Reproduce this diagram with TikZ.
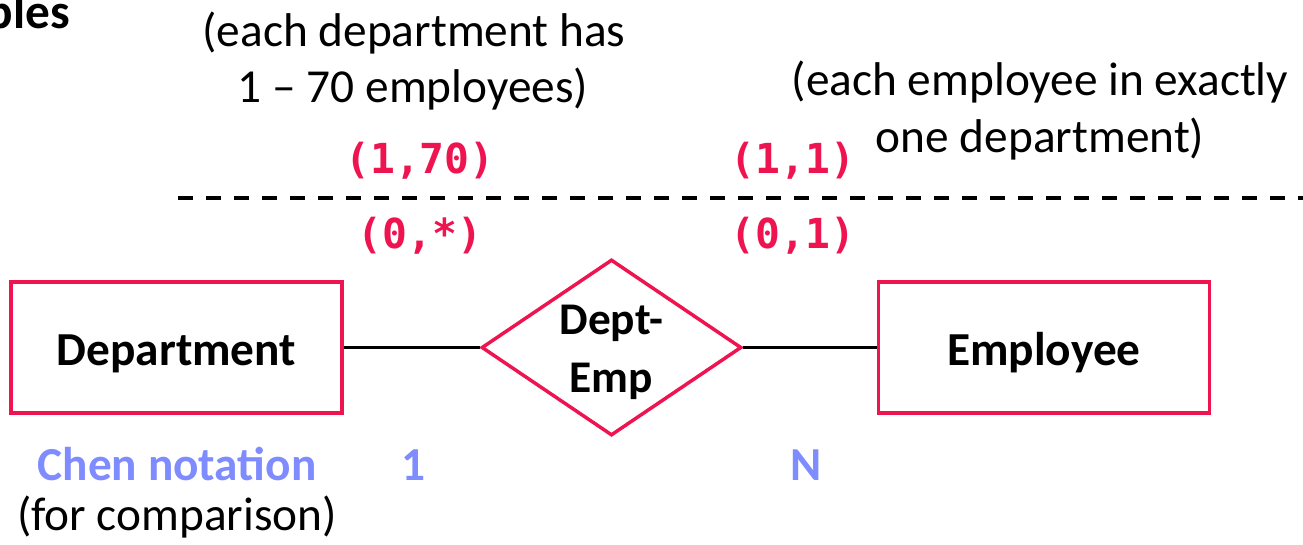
\documentclass[tikz,border=0pt]{standalone}
\usepackage{fontspec}
\setmainfont{Carlito}
\setmonofont{DejaVu Sans Mono}
\usetikzlibrary{shapes.geometric}
\definecolor{erred}{HTML}{EE1450}
\definecolor{chenblue}{HTML}{7F8CFF}
\tikzset{
  txt/.style={inner sep=0pt, anchor=base, font=\fontsize{35.5}{43.5}\selectfont},
  card/.style={inner sep=0pt, anchor=base, text=erred, font=\fontsize{31}{36}\selectfont\ttfamily\bfseries},
  chen/.style={inner sep=0pt, anchor=base, text=chenblue, font=\fontsize{35.5}{43.5}\selectfont\bfseries},
  entity/.style={draw=erred, line width=2.6pt, minimum width=248pt, minimum height=98pt, inner sep=0pt, text height=26.25pt, text depth=0pt, font=\fontsize{35.5}{43.5}\selectfont\bfseries},
  rel/.style={draw=erred, line width=2.6pt, diamond, inner sep=0pt, minimum width=195pt, minimum height=132pt},
  reltxt/.style={inner sep=0pt, align=center, font=\fontsize{34}{43.5}\selectfont\bfseries},
  link/.style={line width=2.6pt, black}
}
\begin{document}
\begin{tikzpicture}[x=0.75pt,y=-0.75pt]
\useasboundingbox (0,0) rectangle (1303,544);
\node[txt, anchor=base east, font=\fontsize{37}{43.5}\selectfont\bfseries] (ples) at (70,28) {ples};
\node[txt] (d1) at (414,46) {(each department has};
\node[txt] (d2) at (413,102) {1 – 70 employees)};
\node[txt] (e1) at (1040,95) {(each employee in exactly};
\node[txt] (e2) at (1040,152) {one department)};
\node[card] (c170) at (420,173) {(1,70)};
\node[card] (c11) at (793,173) {(1,1)};
\node[card] (c0s) at (420,248) {(0,*)};
\node[card] (c01) at (793,248) {(0,1)};
\coordinate (dl) at (178,198);
\coordinate (dr) at (1303,198);
\draw[line width=3pt, dash pattern=on 11.5pt off 9.5pt] (dl) -- (dr);
\node[entity] (dept) at (176.5,347.5) {Department};
\node[entity] (emp) at (1044,347.5) {Employee};
\node[rel] (de) at (611.5,347.5) {};
\node[reltxt] (delabel) at ([yshift=-3.5pt]de.center) {Dept-\\Emp};
\draw[link] (dept.east) -- (de.west);
\draw[link] (de.east) -- (emp.west);
\node[chen] (chen) at (177,480) {Chen notation};
\node[chen] (one) at (413,480) {1};
\node[chen] (n) at (806,480) {N};
\node[txt] (cmp) at (177,530) {(for comparison)};
\end{tikzpicture}
\end{document}
